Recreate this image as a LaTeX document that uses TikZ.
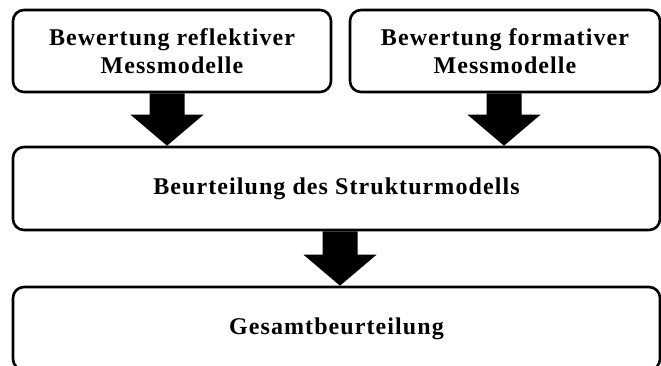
\documentclass[tikz,border=0pt]{standalone}
\usepackage{fontspec}
\setmainfont{Liberation Serif}[LetterSpace=4.5]
\usetikzlibrary{calc}

% Broad downward block arrow from #1 to the height of #2
\newcommand\dropArrow[2]{%
  \fill[black] let \p1=(#1), \p2=(#2) in
    (\x1-17.5pt,\y1) -- (\x1+17.5pt,\y1) -- (\x1+17.5pt,\y2+31pt)
    -- (\x1+36.5pt,\y2+31pt) -- (\x1,\y2) -- (\x1-36.5pt,\y2+31pt)
    -- (\x1-17.5pt,\y2+31pt) -- cycle;}

\tikzset{
  stepbox/.style={draw=black, line width=2.6pt, rounded corners=11pt,
    fill=white, inner sep=0pt, align=center,
    font=\fontsize{24}{28}\selectfont\bfseries},
}

\begin{document}
\begin{tikzpicture}[x=1pt,y=-1pt]
  \useasboundingbox (0,0) rectangle (661,365);

  \node[stepbox, minimum width=318pt, minimum height=82pt] (b1) at (172,51)
    {Bewertung reflektiver\\Messmodelle};
  \node[stepbox, minimum width=310pt, minimum height=82pt] (b2) at (505,51)
    {Bewertung formativer\\Messmodelle};
  \node[stepbox, minimum width=647pt, minimum height=83pt] (b3) at (336.5,188.5)
    {Beurteilung des Strukturmodells};
  \node[stepbox, minimum width=647pt, minimum height=83pt] (b4) at (336.5,328.5)
    {Gesamtbeurteilung};

  \dropArrow{[xshift=-5pt]b1.south}{b3.north}
  \dropArrow{[xshift=-1pt]b2.south}{b3.north}
  \dropArrow{[xshift=3.5pt]b3.south}{b4.north}
\end{tikzpicture}
\end{document}
